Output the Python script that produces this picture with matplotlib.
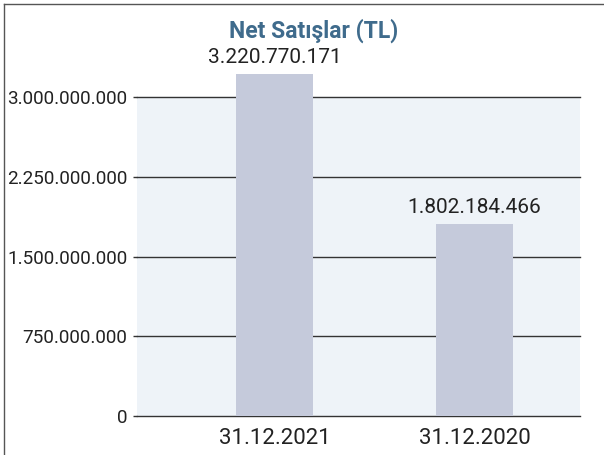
import matplotlib
matplotlib.use("Agg")
import matplotlib.pyplot as plt
from matplotlib.lines import Line2D

# data
categories = ['31.12.2021', '31.12.2020']
values = [3220770171, 1802184466]
value_labels = ['3.220.770.171', '1.802.184.466']
yticks = [0, 750000000, 1500000000, 2250000000, 3000000000]
ytick_labels = ['0', '750.000.000', '1.500.000.000', '2.250.000.000', '3.000.000.000']

plt.rcParams['font.family'] = ['Roboto', 'DejaVu Sans']

bar_color = '#c5cadb'
bg_color = '#eef3f8'
title_color = '#3f6b8c'

fig = plt.figure(figsize=(6.04, 4.55), dpi=100)
ax = fig.add_axes([137 / 604, 39 / 455, 443 / 604, 361.5 / 455])

index = range(len(categories))
ax.axhspan(0, yticks[-1], color=bg_color, zorder=0)
ax.set_xlim(-0.6875, 1.5275)
ax.set_ylim(0, 3.4e9)

bars = ax.bar(index, values, 0.385, color=bar_color, zorder=3)
ax.bar_label(bars, labels=value_labels, padding=5, fontsize=15, color='#222222')

ax.set_yticks(yticks)
ax.set_yticklabels(ytick_labels, fontsize=13.6, color='#222222')
ax.set_xticks(list(index))
ax.set_xticklabels(categories, fontsize=16, color='#222222')
ax.tick_params(axis='y', length=3, width=1, color='#333333', pad=4)
ax.tick_params(axis='x', length=0, pad=9)
ax.yaxis.grid(True, color='#333333', linewidth=1, zorder=1)
for gl in ax.get_ygridlines():
    gl.set_clip_on(False)
ax.set_axisbelow(True)
for s in ax.spines.values():
    s.set_visible(False)
ax.set_facecolor('none')

fig.text(314 / 604, 1 - 31 / 455, 'Net Satışlar (TL)', ha='center', va='center',
         fontsize=16.5, fontweight='bold', color=title_color)

# outer frame (left and top edges)
fig.lines.append(Line2D([3.5 / 604, 3.5 / 604], [0, 1 - 4 / 455], transform=fig.transFigure, color='#555555', lw=1))
fig.lines.append(Line2D([3.5 / 604, 1], [1 - 4 / 455, 1 - 4 / 455], transform=fig.transFigure, color='#555555', lw=1))

plt.savefig('out.png', dpi=100)
